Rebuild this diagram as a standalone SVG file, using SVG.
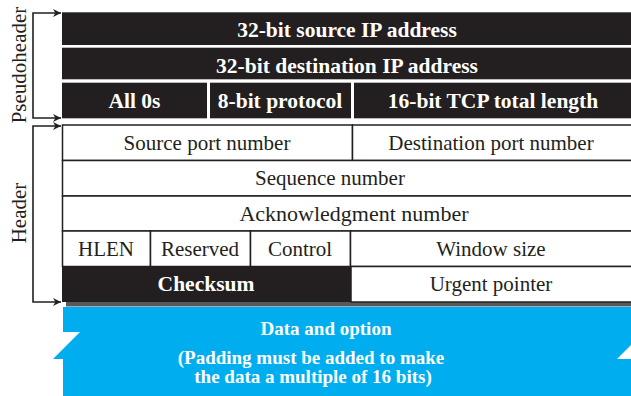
<svg xmlns="http://www.w3.org/2000/svg" width="631" height="396" viewBox="0 0 631 396">
<defs>
<style>
.blk{fill:#231f20;}
.cell{fill:#fff;stroke:#231f20;stroke-width:1.5;}
.bt{font-family:"Liberation Serif","Times New Roman",serif;font-weight:bold;font-size:21.5px;fill:#fff;text-anchor:middle;}
.rt{font-family:"Liberation Serif","Times New Roman",serif;font-size:21px;fill:#231f20;text-anchor:middle;}
.dt{font-family:"Liberation Serif","Times New Roman",serif;font-weight:bold;font-size:19px;fill:#fff;text-anchor:middle;}
.conn{fill:none;stroke:#231f20;stroke-width:1.6;}
</style>
<marker id="ah" viewBox="0 0 10 10" refX="10" refY="5" markerWidth="10" markerHeight="8" markerUnits="userSpaceOnUse" orient="auto-start-reverse">
<path d="M0,0 L10,5 L0,10 L3,5 z" fill="#231f20"/>
</marker>
</defs>
<rect width="631" height="396" fill="#fff"/>

<!-- shadow -->
<rect x="66" y="302" width="570" height="4.5" fill="#58595b"/>

<!-- data block -->
<g id="data">
<polygon points="63,307 640,307 640,396 63,396 63,359 53,359 80,332 63,332" fill="#00aeef"/>
<polygon points="617,359 631,345 631,359" fill="#fff"/>
<text class="dt" x="326" y="335">Data and option</text>
<text class="dt" x="311" y="364">(Padding must be added to make</text>
<text class="dt" x="313" y="383">the data a multiple of 16 bits)</text>
</g>

<!-- pseudoheader -->
<g id="src-ip">
<rect class="blk" x="62" y="12.3" width="575" height="32.7"/>
<text class="bt" x="347" y="36.5">32-bit source IP address</text>
</g>
<g id="dst-ip">
<rect class="blk" x="62" y="47.7" width="575" height="31.6"/>
<text class="bt" x="347" y="72.5">32-bit destination IP address</text>
</g>
<g id="all0s">
<rect class="blk" x="62" y="82.7" width="145" height="35.6"/>
<text class="bt" x="134.5" y="108">All 0s</text>
</g>
<g id="protocol">
<rect class="blk" x="210" y="82.7" width="141" height="35.6"/>
<text class="bt" x="280" y="108">8-bit protocol</text>
</g>
<g id="tcp-length">
<rect class="blk" x="354" y="82.7" width="283" height="35.6"/>
<text class="bt" x="493" y="108">16-bit TCP total length</text>
</g>

<!-- header -->
<g id="src-port">
<rect class="cell" x="62.5" y="125" width="290" height="35.5"/>
<text class="rt" x="207" y="149.5">Source port number</text>
</g>
<g id="dst-port">
<rect class="cell" x="352.5" y="125" width="285" height="35.5"/>
<text class="rt" x="491" y="149.5">Destination port number</text>
</g>
<g id="seq">
<rect class="cell" x="62.5" y="160.5" width="575" height="35.5"/>
<text class="rt" x="330" y="185">Sequence number</text>
</g>
<g id="ack">
<rect class="cell" x="62.5" y="196" width="575" height="35"/>
<text class="rt" x="354" y="220.5" style="font-size:22px">Acknowledgment number</text>
</g>
<g id="hlen">
<rect class="cell" x="62.5" y="231" width="88" height="35.5"/>
<text class="rt" x="106" y="255.5">HLEN</text>
</g>
<g id="reserved">
<rect class="cell" x="150.5" y="231" width="100" height="35.5"/>
<text class="rt" x="200" y="255.5">Reserved</text>
</g>
<g id="control">
<rect class="cell" x="250.5" y="231" width="100" height="35.5"/>
<text class="rt" x="300" y="255.5">Control</text>
</g>
<g id="window">
<rect class="cell" x="350.5" y="231" width="287" height="35.5"/>
<text class="rt" x="491" y="255.5">Window size</text>
</g>
<g id="checksum">
<rect class="blk" x="62" y="266.5" width="289" height="35.5"/>
<text class="bt" x="206" y="291">Checksum</text>
</g>
<g id="urgent">
<rect class="cell" x="351" y="266.5" width="286.5" height="35.5"/>
<text class="rt" x="491" y="291">Urgent pointer</text>
</g>

<!-- labels -->
<g id="pseudoheader-label">
<text class="rt" transform="translate(26,65) rotate(-90)">Pseudoheader</text>
</g>
<g id="header-label">
<text class="rt" transform="translate(26,213) rotate(-90)">Header</text>
</g>

<g id="connectors">
<path class="conn" d="M61,13 H33 V118 H61" marker-start="url(#ah)" marker-end="url(#ah)"/>
<path class="conn" d="M61,126 H33 V302 H61" marker-start="url(#ah)" marker-end="url(#ah)"/>
</g>
</svg>
